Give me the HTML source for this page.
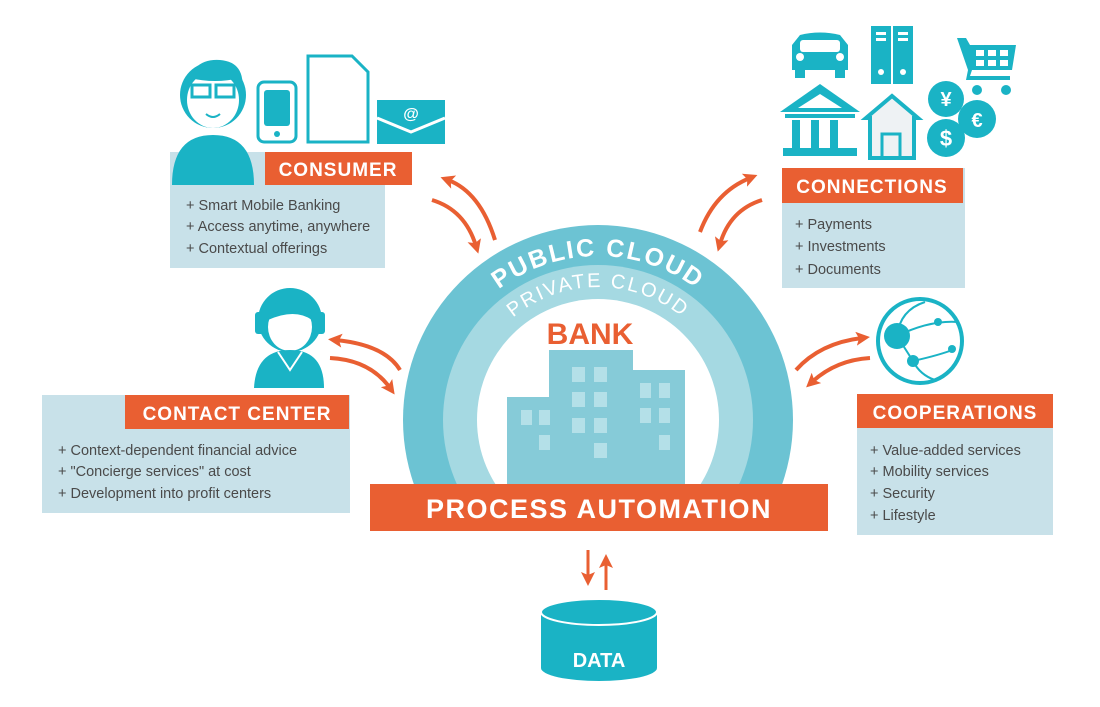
<!DOCTYPE html>
<html><head><meta charset="utf-8"><style>
html,body{margin:0;padding:0;background:#fff;width:1100px;height:707px;overflow:hidden}
svg{display:block}
text{font-family:"Liberation Sans",sans-serif}
.lbl{fill:#fff;font-weight:bold;font-size:19px;letter-spacing:1px}
.it{fill:#4a4a4a;font-size:14.5px}
</style></head><body>
<svg width="1100" height="707" viewBox="0 0 1100 707" xmlns="http://www.w3.org/2000/svg">
<defs>
<path id="pub" d="M434,420 A164,164 0 0 1 762,420"/>
<path id="prv" d="M465,420 A133,133 0 0 1 731,420"/>
<marker id="ah" markerWidth="14" markerHeight="14" refX="6" refY="7" orient="auto" markerUnits="userSpaceOnUse"><path d="M0,0 L14,7 L0,14 L3,7 Z" fill="#e95f32"/></marker>
<clipPath id="top"><rect x="0" y="0" width="1100" height="486"/></clipPath>
</defs>

<g clip-path="url(#top)">
<circle cx="598" cy="420" r="195" fill="#6cc3d3"/>
<circle cx="598" cy="420" r="155" fill="#a5d9e2"/>
<circle cx="598" cy="420" r="121" fill="#fff"/>
</g>
<text font-size="25" font-weight="bold" fill="#fff" letter-spacing="2"><textPath href="#pub" startOffset="50%" text-anchor="middle">PUBLIC CLOUD</textPath></text>
<text font-size="20" fill="#fff" letter-spacing="2"><textPath href="#prv" startOffset="50%" text-anchor="middle">PRIVATE CLOUD</textPath></text>
<text x="590" y="344" font-size="30" font-weight="bold" fill="#e95f32" text-anchor="middle">BANK</text>

<g fill="#86cbd8">
<rect x="549" y="350" width="84" height="136"/>
<rect x="507" y="397" width="44" height="89"/>
<rect x="631" y="370" width="54" height="116"/>
</g>
<g fill="#b4e0e8">
<rect x="572" y="367" width="13" height="15"/><rect x="594" y="367" width="13" height="15"/>
<rect x="572" y="392" width="13" height="15"/><rect x="594" y="392" width="13" height="15"/>
<rect x="572" y="418" width="13" height="15"/><rect x="594" y="418" width="13" height="15"/>
<rect x="594" y="443" width="13" height="15"/>
<rect x="521" y="410" width="11" height="15"/><rect x="539" y="410" width="11" height="15"/>
<rect x="539" y="435" width="11" height="15"/>
<rect x="640" y="383" width="11" height="15"/><rect x="659" y="383" width="11" height="15"/>
<rect x="640" y="408" width="11" height="15"/><rect x="659" y="408" width="11" height="15"/>
<rect x="659" y="435" width="11" height="15"/>
</g>

<rect x="370" y="484" width="458" height="47" fill="#e95f32"/>
<text x="599" y="518" font-size="27" font-weight="bold" fill="#fff" text-anchor="middle" letter-spacing="1.5">PROCESS AUTOMATION</text>

<path d="M588,550 L588,578" stroke="#e95f32" stroke-width="3" marker-end="url(#ah)"/>
<path d="M606,590 L606,562" stroke="#e95f32" stroke-width="3" marker-end="url(#ah)"/>
<rect x="541" y="612" width="116" height="56" fill="#1ab3c5"/>
<ellipse cx="599" cy="668" rx="58" ry="13" fill="#1ab3c5"/>
<ellipse cx="599" cy="612" rx="58" ry="13" fill="#1ab3c5" stroke="#fff" stroke-width="2"/>
<text x="599" y="667" font-size="20" font-weight="bold" fill="#fff" text-anchor="middle">DATA</text>

<!-- consumer -->
<rect x="170" y="152" width="215" height="116" fill="#c8e1e9"/>
<circle cx="213" cy="95" r="33" fill="#1ab3c5"/>
<ellipse cx="213" cy="100" rx="26" ry="28" fill="#fff"/>
<path d="M186,92 Q190,58 220,60 Q246,62 242,92 L240,78 Q215,84 190,78 Z" fill="#1ab3c5"/>
<rect x="192" y="85" width="18" height="12" fill="none" stroke="#1ab3c5" stroke-width="3"/>
<rect x="216" y="85" width="18" height="12" fill="none" stroke="#1ab3c5" stroke-width="3"/>
<path d="M206,114 Q213,120 220,114" fill="none" stroke="#1ab3c5" stroke-width="2"/>
<path d="M172,185 Q172,135 213,135 Q254,135 254,185 Z" fill="#1ab3c5"/>
<rect x="258" y="82" width="38" height="60" rx="6" fill="#fff" stroke="#1ab3c5" stroke-width="3"/>
<rect x="264" y="90" width="26" height="36" rx="3" fill="#1ab3c5"/>
<circle cx="277" cy="134" r="3" fill="#1ab3c5"/>
<path d="M308,56 L352,56 L368,72 L368,142 L308,142 Z" fill="#fff" stroke="#1ab3c5" stroke-width="3"/>
<rect x="377" y="100" width="68" height="44" fill="#1ab3c5"/>
<path d="M377,118 L411,132 L445,118" fill="none" stroke="#fff" stroke-width="3"/>
<text x="411" y="119" font-size="16" fill="#fff" text-anchor="middle" font-weight="bold">@</text>
<rect x="265" y="152" width="147" height="33" fill="#e95f32"/>
<text x="338" y="176" class="lbl" text-anchor="middle">CONSUMER</text>
<text x="186" y="210" class="it">+ Smart Mobile Banking</text>
<text x="186" y="231" class="it">+ Access anytime, anywhere</text>
<text x="186" y="253" class="it">+ Contextual offerings</text>

<!-- connections -->
<rect x="782" y="168" width="183" height="120" fill="#c8e1e9"/>
<rect x="782" y="168" width="181" height="35" fill="#e95f32"/>
<text x="872" y="193" class="lbl" text-anchor="middle">CONNECTIONS</text>
<text x="795" y="229" class="it">+ Payments</text>
<text x="795" y="251" class="it">+ Investments</text>
<text x="795" y="274" class="it">+ Documents</text>
<g fill="#1ab3c5">
<path d="M792,45 L800,35 Q820,30 840,35 L848,45 L848,70 L792,70 Z"/>
<rect x="795" y="68" width="10" height="10"/><rect x="835" y="68" width="10" height="10"/>
<rect x="871" y="26" width="20" height="58"/><rect x="893" y="26" width="20" height="58"/>
<path d="M780,112 L820,84 L860,112 Z"/><rect x="785" y="114" width="70" height="4"/>
<rect x="792" y="120" width="8" height="28"/><rect x="811" y="120" width="8" height="28"/><rect x="830" y="120" width="8" height="28"/>
<rect x="783" y="148" width="74" height="8"/>
<circle cx="946" cy="99" r="18"/><circle cx="977" cy="119" r="19"/><circle cx="946" cy="138" r="19"/>
<path d="M957,38 L966,38 L970,45 L1016,45 L1012,70 L972,70 L970,76 L1010,76 L1010,80 L966,80 L968,70 Z"/>
<circle cx="977" cy="90" r="5"/><circle cx="1006" cy="90" r="5"/>
</g>
<g fill="#fff">
<rect x="800" y="40" width="40" height="12" rx="3"/>
<circle cx="800" cy="57" r="4"/><circle cx="840" cy="57" r="4"/>
<rect x="876" y="32" width="10" height="3"/><rect x="876" y="38" width="10" height="3"/><rect x="898" y="32" width="10" height="3"/><rect x="898" y="38" width="10" height="3"/>
<circle cx="881" cy="72" r="3"/><circle cx="903" cy="72" r="3"/>
<path d="M798,108 L820,94 L842,108 Z"/>
<rect x="976" y="50" width="8" height="6"/><rect x="988" y="50" width="8" height="6"/><rect x="1000" y="50" width="8" height="6"/>
<rect x="976" y="60" width="8" height="6"/><rect x="988" y="60" width="8" height="6"/><rect x="1000" y="60" width="8" height="6"/>
</g>
<path d="M866,118 L892,96 L918,118 L914,118 L914,158 L870,158 L870,118 Z" fill="#eef2f4" stroke="#1ab3c5" stroke-width="4"/>
<rect x="882" y="134" width="18" height="24" fill="none" stroke="#1ab3c5" stroke-width="3"/>
<text x="946" y="106" font-size="20" font-weight="bold" fill="#fff" text-anchor="middle">¥</text>
<text x="977" y="127" font-size="20" font-weight="bold" fill="#fff" text-anchor="middle">€</text>
<text x="946" y="146" font-size="22" font-weight="bold" fill="#fff" text-anchor="middle">$</text>

<!-- contact center -->
<rect x="42" y="395" width="308" height="118" fill="#c8e1e9"/>
<rect x="125" y="395" width="224" height="34" fill="#e95f32"/>
<text x="237" y="420" class="lbl" text-anchor="middle">CONTACT CENTER</text>
<text x="58" y="455" class="it">+ Context-dependent financial advice</text>
<text x="58" y="476" class="it">+ "Concierge services" at cost</text>
<text x="58" y="498" class="it">+ Development into profit centers</text>
<circle cx="290" cy="320" r="32" fill="#1ab3c5"/>
<ellipse cx="290" cy="327" rx="22" ry="24" fill="#fff"/>
<path d="M268,320 Q270,298 292,298 Q312,300 312,320 Q295,308 268,320Z" fill="#1ab3c5"/>
<rect x="255" y="312" width="9" height="22" rx="3" fill="#1ab3c5"/><rect x="316" y="312" width="9" height="22" rx="3" fill="#1ab3c5"/>
<path d="M254,388 Q256,350 290,350 Q324,350 324,388 Z" fill="#1ab3c5"/>
<path d="M278,352 L290,370 L302,352" fill="none" stroke="#fff" stroke-width="2"/>

<!-- cooperations -->
<rect x="857" y="394" width="196" height="141" fill="#c8e1e9"/>
<rect x="857" y="394" width="196" height="34" fill="#e95f32"/>
<text x="955" y="419" class="lbl" text-anchor="middle">COOPERATIONS</text>
<text x="870" y="455" class="it">+ Value-added services</text>
<text x="870" y="476" class="it">+ Mobility services</text>
<text x="870" y="498" class="it">+ Security</text>
<text x="870" y="520" class="it">+ Lifestyle</text>
<circle cx="920" cy="341" r="42" fill="none" stroke="#1ab3c5" stroke-width="4"/>
<g stroke="#1ab3c5" stroke-width="2" fill="none">
<path d="M897,336 Q930,320 958,322"/><path d="M897,336 L913,361 Q940,355 955,349"/><path d="M897,336 Q900,310 925,302"/><path d="M913,361 Q920,375 935,380"/>
</g>
<circle cx="897" cy="336" r="13" fill="#1ab3c5"/><circle cx="913" cy="361" r="6" fill="#1ab3c5"/><circle cx="938" cy="322" r="4" fill="#1ab3c5"/><circle cx="952" cy="349" r="4" fill="#1ab3c5"/>

<g stroke="#e95f32" stroke-width="4" fill="none">
<path d="M495,240 Q480,192 448,180" marker-end="url(#ah)"/>
<path d="M432,200 Q465,210 476,246" marker-end="url(#ah)"/>
<path d="M700,232 Q715,192 750,178" marker-end="url(#ah)"/>
<path d="M762,200 Q730,210 720,244" marker-end="url(#ah)"/>
<path d="M400,370 Q385,345 336,340" marker-end="url(#ah)"/>
<path d="M330,358 Q370,360 390,388" marker-end="url(#ah)"/>
<path d="M796,370 Q820,343 862,338" marker-end="url(#ah)"/>
<path d="M870,358 Q836,360 812,382" marker-end="url(#ah)"/>
</g>
</svg>
</body></html>
